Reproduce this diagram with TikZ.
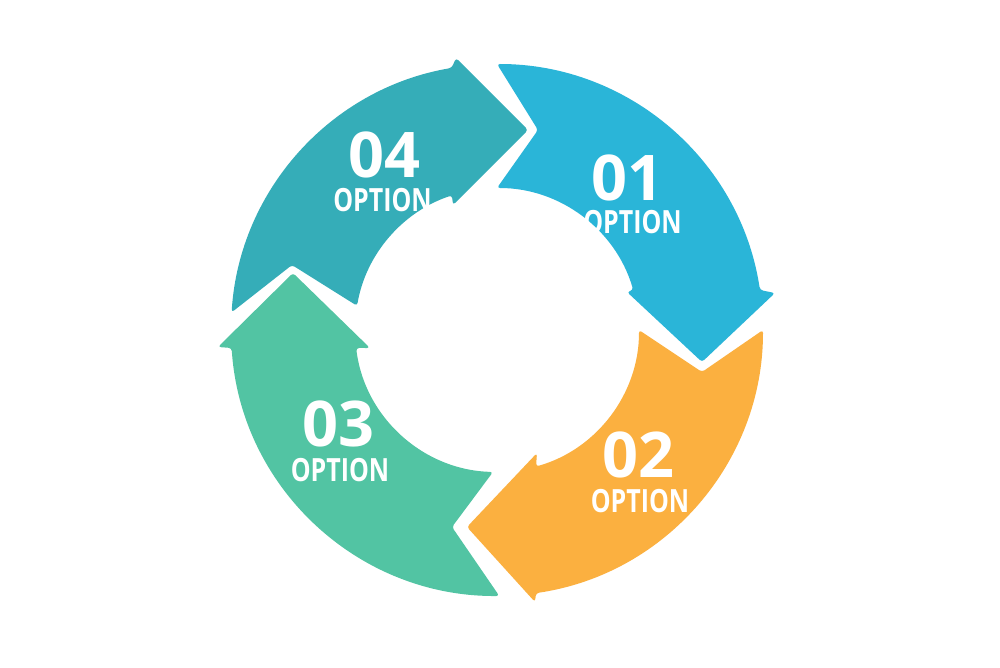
\documentclass[tikz,border=0pt]{standalone}
\usepackage{fontspec}
\setmainfont{Open Sans}
\newfontfamily\optfont{Open Sans}[FakeStretch=0.78]
\definecolor{cfour}{HTML}{35ADB8}
\definecolor{cone}{HTML}{2AB5D8}
\definecolor{ctwo}{HTML}{FBB040}
\definecolor{cthree}{HTML}{52C4A3}
\begin{document}
\begin{tikzpicture}[x=1pt,y=1pt,
  piece/.style={rounded corners=3pt},
  num/.style={text=white, font=\fontsize{63}{63}\selectfont\bfseries, inner sep=0pt},
  opt/.style={text=white, font=\optfont\fontsize{32}{32}\selectfont\bfseries, inner sep=0pt}]
\useasboundingbox (-497,-337) rectangle (503,330);
\fill[white] (-497,-337) rectangle (503,330);
% 04
\fill[cfour, piece] (176.2:266) arc[start angle=176.2, end angle=99.8, radius=266pt]
  -- (-41,272) -- (31,200) -- (-44,125) -- (108.5:142)
  arc[start angle=108.5, end angle=170.2, radius=142pt] -- (-205,65) -- cycle;
% 01
\fill[cone, piece] (90:266) arc[start angle=90, end angle=8.65, radius=266pt]
  -- (278,37) -- (205,-32) -- (130,38) -- (16.36:142)
  arc[start angle=16.36, end angle=90, radius=142pt] -- (41,200) -- cycle;
% 02
\fill[ctwo, piece] (0:266) arc[start angle=0, end angle=-81.57, radius=266pt]
  -- (38,-272) -- (-30,-197) -- (40,-123) -- (-74.05:142)
  arc[start angle=-74.05, end angle=0, radius=142pt] -- (205,-42) -- cycle;
% 03
\fill[cthree, piece] (-89.5:266) arc[start angle=-89.5, end angle=-176.12, radius=266pt]
  -- (-279,-17) -- (-204,57) -- (-127,-18) -- (-172.72:142)
  arc[start angle=-172.72, end angle=-91.6, radius=142pt] -- (-45,-197) -- cycle;
% labels
\node[num] (n4) at (-113,175.5) {04};
\node[opt] (o4) at (-114.5,130) {OPTION};
\node[num] (n1) at (130.5,152.5) {01};
\node[opt] (o1) at (135.5,107.5) {OPTION};
\node[num] (n2) at (141.5,-124.5) {02};
\node[opt] (o2) at (143,-171.5) {OPTION};
\node[num] (n3) at (-158.5,-93.5) {03};
\node[opt] (o3) at (-157,-140) {OPTION};
\end{tikzpicture}
\end{document}
